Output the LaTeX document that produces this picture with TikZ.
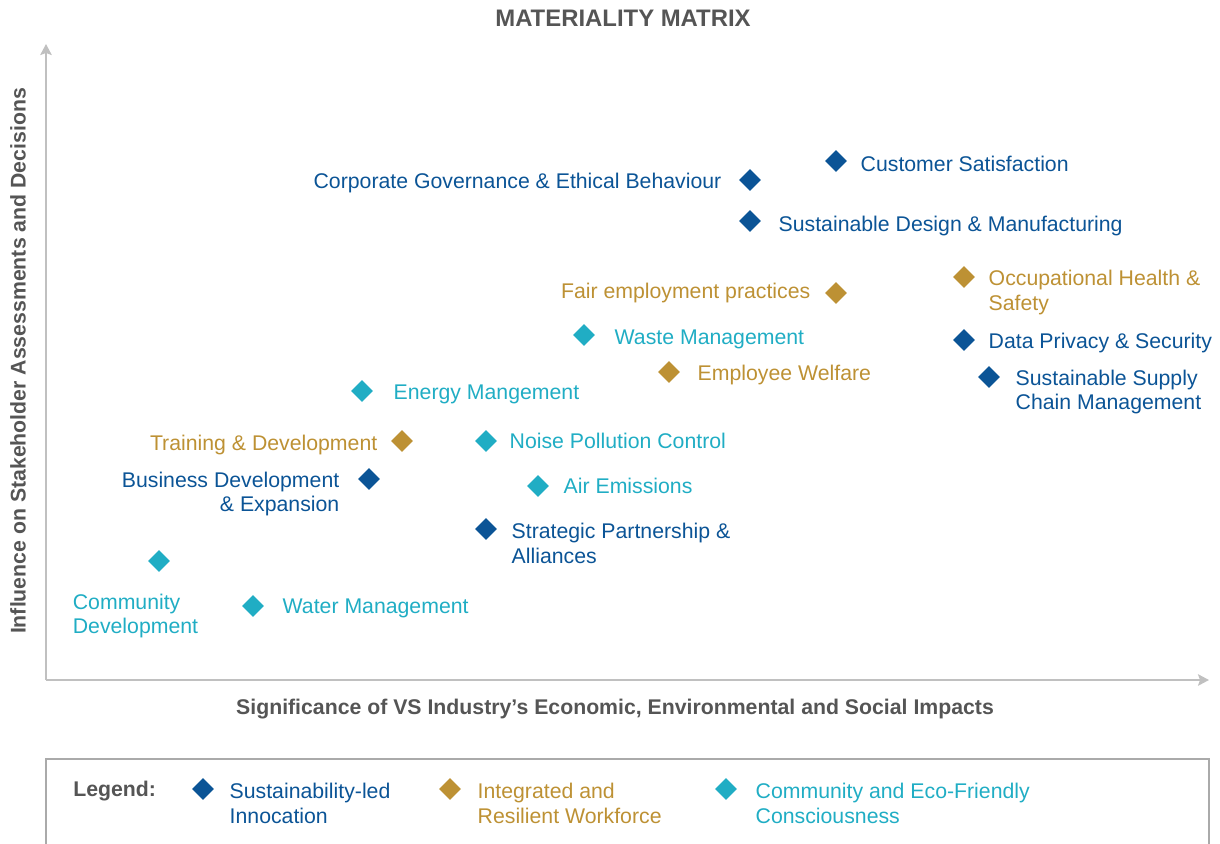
\documentclass[tikz,border=0pt]{standalone}
\usepackage{fontspec}
\setmainfont{Liberation Sans}
\usetikzlibrary{arrows.meta,shapes.geometric,positioning}
\definecolor{vsblue}{RGB}{11,84,150}
\definecolor{vsgold}{RGB}{189,145,52}
\definecolor{vsteal}{RGB}{32,173,196}
\definecolor{vsgray}{RGB}{85,85,85}
\definecolor{vsaxis}{RGB}{192,192,192}
\definecolor{vsframe}{RGB}{170,170,170}

\begin{document}
\begin{tikzpicture}[
    x=0.02cm, y=-0.02cm,
    node distance=0.26cm,
    gem/.style={diamond, inner sep=0pt, minimum size=0.44cm},
    innov/.style={gem, fill=vsblue},
    workf/.style={gem, fill=vsgold},
    ecof/.style={gem, fill=vsteal},
    lbl/.style={inner sep=0pt, align=left, font=\fontsize{12.1}{14}\selectfont},
    one/.style={text height=9.2pt, text depth=2.7pt},
    heading/.style={inner sep=0pt, text=vsgray, font=\bfseries\fontsize{12.1}{14}\selectfont},
    axisline/.style={draw=vsaxis, line width=1.1pt, -{Stealth[length=0.22cm, width=0.23cm, inset=0.04cm]}},
    legendframe/.style={draw=vsframe, line width=1.1pt}
]
    \useasboundingbox (0,0) rectangle (1220,843);

    % axes and titles
    \coordinate (origin) at (46,680);
    \coordinate (ytip) at (46,44);
    \coordinate (xtip) at (1209,680);
    \draw[axisline] (origin) -- (ytip);
    \draw[axisline] (origin) -- (xtip);

    \node[heading, font=\bfseries\fontsize{13.6}{16}\selectfont] (title) at (623,18) {MATERIALITY MATRIX};
    \node[heading] (xlabel) at (615,709) {Significance of VS Industry’s Economic, Environmental and Social Impacts};
    \node[heading, rotate=90] (ylabel) at (18,361) {Influence on Stakeholder Assessments and Decisions};

    % topics
    \node[innov] (custsat) at (836,161) {};
    \node[innov] (corpgov) at (750,180) {};
    \node[innov] (susdesign) at (750,221) {};
    \node[workf] (ohs) at (964,277) {};
    \node[workf] (fairemp) at (836,293) {};
    \node[innov] (privacy) at (964,340) {};
    \node[ecof] (waste) at (584,335) {};
    \node[workf] (welfare) at (669,372) {};
    \node[innov] (supply) at (989,377) {};
    \node[ecof] (energy) at (362,391) {};
    \node[workf] (training) at (402,441) {};
    \node[ecof] (noise) at (486,441) {};
    \node[innov] (busdev) at (369,479) {};
    \node[ecof] (air) at (538,486) {};
    \node[innov] (partner) at (486,529) {};
    \node[ecof] (commdev) at (159,561) {};
    \node[ecof] (water) at (253,606) {};

    \node[lbl, one, text=vsblue, right=0.26cm of custsat, yshift=-0.1cm] (custsat-t) {Customer Satisfaction};
    \node[lbl, one, text=vsblue, left=0.34cm of corpgov, yshift=-0.05cm] (corpgov-t) {Corporate Governance \& Ethical Behaviour};
    \node[lbl, one, text=vsblue, right=0.34cm of susdesign, yshift=-0.1cm] (susdesign-t) {Sustainable Design \& Manufacturing};
    \node[lbl, text=vsgold, right=0.26cm of ohs, yshift=-0.31cm] (ohs-t) {Occupational Health \&\\Safety};
    \node[lbl, one, text=vsgold, left=0.28cm of fairemp] (fairemp-t) {Fair employment practices};
    \node[lbl, one, text=vsblue, right=0.26cm of privacy, yshift=-0.05cm] (privacy-t) {Data Privacy \& Security};
    \node[lbl, one, text=vsteal, right=0.38cm of waste, yshift=-0.07cm] (waste-t) {Waste Management};
    \node[lbl, one, text=vsgold, right=0.34cm of welfare, yshift=-0.05cm] (welfare-t) {Employee Welfare};
    \node[lbl, text=vsblue, right=0.3cm of supply, yshift=-0.3cm] (supply-t) {Sustainable Supply\\Chain Management};
    \node[lbl, one, text=vsteal, right=0.4cm of energy, yshift=-0.05cm] (energy-t) {Energy Mangement};
    \node[lbl, one, text=vsgold, left=0.26cm of training, yshift=-0.08cm] (training-t) {Training \& Development};
    \node[lbl, one, text=vsteal, right=0.24cm of noise, yshift=-0.03cm] (noise-t) {Noise Pollution Control};
    \node[lbl, text=vsblue, align=right, left=0.36cm of busdev, yshift=-0.3cm] (busdev-t) {Business Development\\\& Expansion};
    \node[lbl, one, text=vsteal, right=0.28cm of air, yshift=-0.03cm] (air-t) {Air Emissions};
    \node[lbl, text=vsblue, right=0.28cm of partner, yshift=-0.29cm] (partner-t) {Strategic Partnership \&\\Alliances};
    \node[lbl, text=vsteal, below=0.42cm of commdev, xshift=-0.47cm] (commdev-t) {Community\\Development};
    \node[lbl, one, text=vsteal, right=0.36cm of water, yshift=-0.03cm] (water-t) {Water Management};

    % legend
    \draw[legendframe] (46,850) -- (46,759) -- (1209,759) -- (1209,850);
    \node[heading, one, anchor=west] (legend) at (73,791) {Legend:};
    \node[innov] (key1) at (203,789) {};
    \node[workf] (key2) at (450,789) {};
    \node[ecof] (key3) at (726,789) {};
    \node[lbl, text=vsblue, right=0.3cm of key1, yshift=-0.29cm] (key1-t) {Sustainability-led\\Innocation};
    \node[lbl, text=vsgold, right=0.32cm of key2, yshift=-0.29cm] (key2-t) {Integrated and\\Resilient Workforce};
    \node[lbl, text=vsteal, right=0.36cm of key3, yshift=-0.29cm] (key3-t) {Community and Eco-Friendly\\Consciousness};
\end{tikzpicture}
\end{document}
